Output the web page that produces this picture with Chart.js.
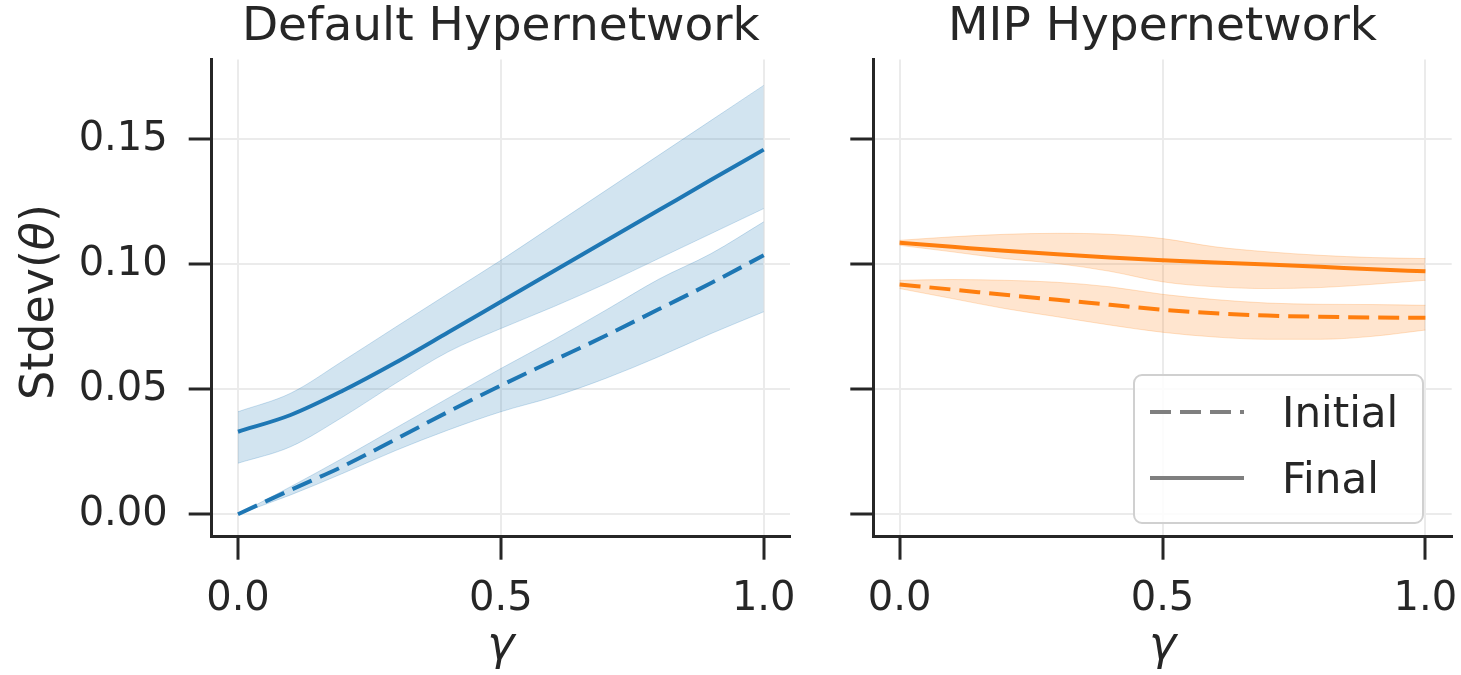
<!DOCTYPE html>
<html>
<head>
<meta charset="utf-8">
<title>Stdev(θ) vs γ</title>
<script src="https://cdn.jsdelivr.net/npm/chart.js@4.4.1/dist/chart.umd.min.js"></script>
<style>
  html, body { margin: 0; padding: 0; background: #ffffff; }
  #wrap { position: relative; width: 1461px; height: 675px; overflow: hidden; }
  .panel { position: absolute; top: 0; height: 675px; }
  #leftPanel { left: 0; width: 810px; }
  #rightPanel { left: 810px; width: 651px; }
</style>
</head>
<body>
<div id="wrap">
  <div class="panel" id="leftPanel"><canvas id="cDefault"></canvas></div>
  <div class="panel" id="rightPanel"><canvas id="cMip"></canvas></div>
</div>
<script>
// gamma sweep
const gamma = [0.0, 0.1, 0.2, 0.3, 0.4, 0.5, 0.6, 0.7, 0.8, 0.9, 1.0];

// Default hypernetwork: stdev of generated parameters
const defFinalMean  = [0.0330, 0.0397, 0.0495, 0.0607, 0.0728, 0.0850, 0.0972, 0.1094, 0.1216, 0.1338, 0.1459];
const defFinalHigh  = [0.0410, 0.0484, 0.0614, 0.0749, 0.0883, 0.1016, 0.1156, 0.1296, 0.1436, 0.1576, 0.1716];
const defFinalLow   = [0.0204, 0.0270, 0.0390, 0.0524, 0.0650, 0.0743, 0.0830, 0.0923, 0.1023, 0.1123, 0.1223];
const defInitMean   = [0.0000, 0.0097, 0.0192, 0.0300, 0.0410, 0.0515, 0.0615, 0.0715, 0.0820, 0.0925, 0.1036];
const defInitHigh   = [0.0000, 0.0110, 0.0225, 0.0345, 0.0465, 0.0583, 0.0697, 0.0817, 0.0940, 0.1043, 0.1170];
const defInitLow    = [0.0000, 0.0077, 0.0164, 0.0255, 0.0337, 0.0410, 0.0470, 0.0544, 0.0630, 0.0723, 0.0810];

// MIP hypernetwork
const mipFinalMean  = [0.1086, 0.1070, 0.1054, 0.1040, 0.1027, 0.1016, 0.1007, 0.0999, 0.0990, 0.0980, 0.0972];
const mipFinalHigh  = [0.1096, 0.1110, 0.1120, 0.1124, 0.1120, 0.1103, 0.1070, 0.1050, 0.1036, 0.1027, 0.1023];
const mipFinalLow   = [0.1076, 0.1050, 0.1023, 0.1003, 0.0972, 0.0930, 0.0910, 0.0903, 0.0907, 0.0920, 0.0936];
const mipInitMean   = [0.0919, 0.0899, 0.0878, 0.0858, 0.0838, 0.0818, 0.0804, 0.0795, 0.0790, 0.0787, 0.0786];
const mipInitHigh   = [0.0936, 0.0939, 0.0936, 0.0928, 0.0910, 0.0880, 0.0859, 0.0845, 0.0840, 0.0839, 0.0836];
const mipInitLow    = [0.0903, 0.0863, 0.0823, 0.0790, 0.0757, 0.0728, 0.0709, 0.0700, 0.0700, 0.0712, 0.0737];

const xTicks = [0.0, 0.5, 1.0];
const yTicks = [0.00, 0.05, 0.10, 0.15];
const seriesNames = ['Initial', 'Final'];
const panelTitles = ['Default Hypernetwork', 'MIP Hypernetwork'];

const INK = '#262626';
const FONT = 'DejaVu Sans';
const BLUE = '#1f77b4';
const ORANGE = '#ff7f0e';
const DASH = [21, 9];

function rgba(hex, a) {
  const n = parseInt(hex.slice(1), 16);
  return `rgba(${(n >> 16) & 255},${(n >> 8) & 255},${n & 255},${a})`;
}
function pts(ys) { return gamma.map((x, i) => ({ x: x, y: ys[i] })); }

function bandPair(high, low, color) {
  return [
    { data: pts(high), fill: '+1', backgroundColor: rgba(color, 0.2), borderColor: rgba(color, 0.22),
      borderWidth: 1, pointRadius: 0, cubicInterpolationMode: 'monotone' },
    { data: pts(low), fill: false, backgroundColor: 'transparent', borderColor: rgba(color, 0.22),
      borderWidth: 1, pointRadius: 0, cubicInterpolationMode: 'monotone' }
  ];
}
function meanLine(ys, color, dashed, name) {
  return { label: name, data: pts(ys), fill: false, borderColor: color, borderWidth: 4,
    borderDash: dashed ? DASH : [], borderCapStyle: 'butt', pointRadius: 0, cubicInterpolationMode: 'monotone' };
}

// y label with italic theta
const yLabelPlugin = {
  id: 'yLabel',
  afterDraw(chart, args, opts) {
    if (!opts || !opts.show) return;
    const ctx = chart.ctx;
    const parts = [['Stdev(', 'normal'], ['θ', 'italic'], [')', 'normal']];
    ctx.save();
    let total = 0;
    const widths = parts.map(p => { ctx.font = `${p[1]} 46px ${FONT}`; const w = ctx.measureText(p[0]).width; total += w; return w; });
    const cy = (chart.chartArea.top + chart.chartArea.bottom) / 2 + 4;
    ctx.translate(opts.x, cy);
    ctx.rotate(-Math.PI / 2);
    ctx.fillStyle = INK;
    ctx.textBaseline = 'middle';
    ctx.textAlign = 'left';
    let x = -total / 2;
    parts.forEach((p, i) => { ctx.font = `${p[1]} 46px ${FONT}`; ctx.fillText(p[0], x, 0); x += widths[i]; });
    ctx.restore();
  }
};

// legend drawn inside the plot area, lower right
const insetLegendPlugin = {
  id: 'insetLegend',
  afterDraw(chart, args, opts) {
    if (!opts || !opts.show) return;
    const ctx = chart.ctx;
    const ca = chart.chartArea;
    const w = 289, h = 148;
    const x0 = ca.right - 28.7 - w, y0 = ca.bottom - 13.7 - h;
    ctx.save();
    ctx.beginPath();
    ctx.roundRect(x0, y0, w, h, 8);
    ctx.fillStyle = 'rgba(255,255,255,0.85)';
    ctx.fill();
    ctx.lineWidth = 2;
    ctx.strokeStyle = '#d0d0d0';
    ctx.stroke();
    const rows = [{ y: y0 + 37, dashed: true, name: seriesNames[0] }, { y: y0 + 103, dashed: false, name: seriesNames[1] }];
    rows.forEach(r => {
      ctx.beginPath();
      ctx.setLineDash(r.dashed ? DASH : []);
      ctx.lineCap = 'butt';
      ctx.lineWidth = 4;
      ctx.strokeStyle = '#7f7f7f';
      ctx.moveTo(x0 + 16, r.y);
      ctx.lineTo(x0 + 110, r.y);
      ctx.stroke();
      ctx.setLineDash([]);
      ctx.fillStyle = INK;
      ctx.font = `42px ${FONT}`;
      ctx.textBaseline = 'alphabetic';
      ctx.textAlign = 'left';
      ctx.fillText(r.name, x0 + 148, r.y + 15);
    });
    ctx.restore();
  }
};

function noLabelPadding(s) {
  s.paddingLeft = 0; s.paddingRight = 0; s.paddingTop = 0; s.paddingBottom = 0;
}

function makeOptions(cfg) {
  return {
    responsive: true,
    maintainAspectRatio: false,
    animation: false,
    events: [],
    layout: { padding: { left: cfg.padLeft, right: cfg.padRight, top: 0, bottom: 0 } },
    plugins: {
      legend: { display: false },
      tooltip: { enabled: false },
      title: { display: true, text: cfg.title, fullSize: false, color: INK,
        font: { family: FONT, size: 47, weight: 'normal', lineHeight: 1.2 }, padding: { top: 0, bottom: 3 } },
      yLabel: { show: cfg.showYLabel, x: 41 },
      insetLegend: { show: cfg.showLegend }
    },
    scales: {
      x: {
        type: 'linear', min: -0.05, max: 1.05,
        afterBuildTicks: s => { s.ticks = xTicks.map(v => ({ value: v })); },
        afterFit: s => { s.height = 138.3; noLabelPadding(s); },
        grid: { color: '#ebebeb', lineWidth: 2, tickLength: 23, tickColor: INK, tickWidth: 3, drawTicks: true },
        border: { display: true, color: INK, width: 3 },
        ticks: { color: INK, padding: 16, maxRotation: 0, font: { family: FONT, size: 40 },
          callback: v => Number(v).toFixed(1) },
        title: { display: true, text: 'γ', color: INK, padding: { top: 0, bottom: 0 },
          font: { family: FONT, size: 46, style: 'italic', lineHeight: 1.2 } }
      },
      y: {
        type: 'linear', min: -0.009, max: 0.182,
        afterBuildTicks: s => { s.ticks = yTicks.map(v => ({ value: v })); },
        afterFit: s => { s.width = cfg.yWidth; noLabelPadding(s); },
        grid: { color: '#ebebeb', lineWidth: 2, tickLength: 23, tickColor: INK, tickWidth: 3, drawTicks: true },
        border: { display: true, color: INK, width: 3 },
        ticks: { display: cfg.showYTicks, color: INK, padding: 21, font: { family: FONT, size: 40 },
          callback: v => Number(v).toFixed(2) }
      }
    }
  };
}

new Chart(document.getElementById('cDefault'), {
  type: 'line',
  data: {
    datasets: [
      ...bandPair(defFinalHigh, defFinalLow, BLUE),
      ...bandPair(defInitHigh, defInitLow, BLUE),
      meanLine(defFinalMean, BLUE, false, seriesNames[1]),
      meanLine(defInitMean, BLUE, true, seriesNames[0])
    ]
  },
  options: makeOptions({ title: panelTitles[0], padLeft: 0, padRight: 20, yWidth: 211.7,
    showYTicks: true, showYLabel: true, showLegend: false }),
  plugins: [yLabelPlugin, insetLegendPlugin]
});

new Chart(document.getElementById('cMip'), {
  type: 'line',
  data: {
    datasets: [
      ...bandPair(mipFinalHigh, mipFinalLow, ORANGE),
      ...bandPair(mipInitHigh, mipInitLow, ORANGE),
      meanLine(mipFinalMean, ORANGE, false, seriesNames[1]),
      meanLine(mipInitMean, ORANGE, true, seriesNames[0])
    ]
  },
  options: makeOptions({ title: panelTitles[1], padLeft: 33.3, padRight: 9.3, yWidth: 30,
    showYTicks: false, showYLabel: false, showLegend: true }),
  plugins: [yLabelPlugin, insetLegendPlugin]
});
</script>
</body>
</html>
